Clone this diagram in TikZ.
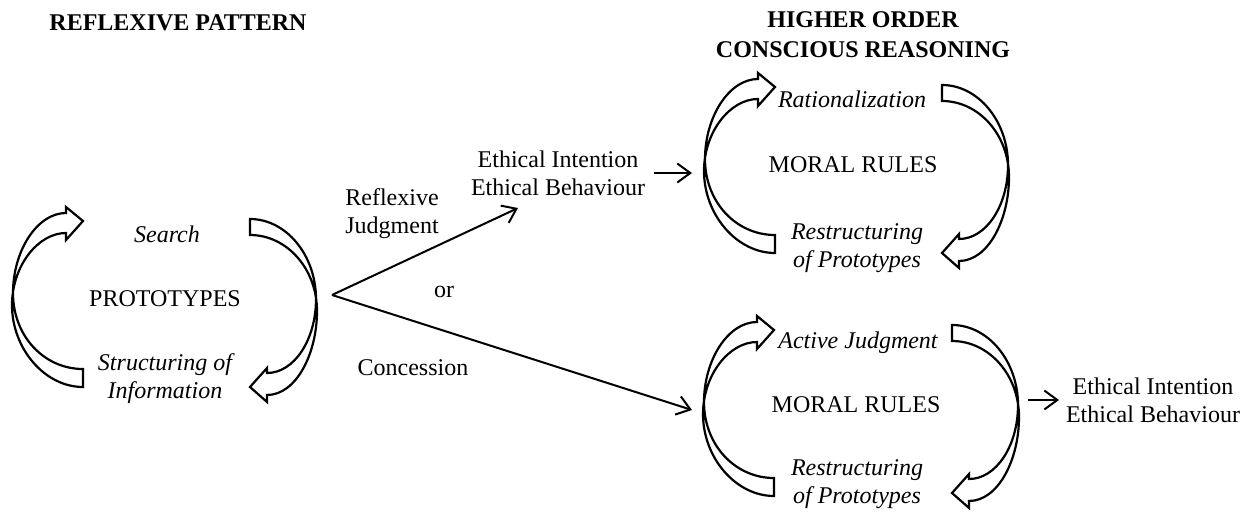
\documentclass[tikz,border=0pt]{standalone}
\usepackage{fontspec}
\setmainfont{Liberation Serif}
\usepackage{tikz}
\usetikzlibrary{arrows.meta,positioning}

\tikzset{
  txt/.style={font=\fontsize{24}{27.5}\selectfont, align=center, inner sep=0pt},
  itxt/.style={txt, font=\fontsize{24}{27.5}\selectfont\itshape},
  hdr/.style={txt, font=\fontsize{24}{29}\selectfont\bfseries},
  % curved block arrow on the left, head at the top
  turnup/.pic={
    \draw[line width=2.2pt, line join=miter] (0,148) .. controls (-39,148) and (-70,115) .. (-70,72)
      .. controls (-70,30) and (-46,-8) .. (-17,-8) -- (-17,-14) -- (0,0) -- (-17,19) -- (-17,12)
      .. controls (-45,12) and (-71,45) .. (-71,84)
      .. controls (-71,128) and (-38,166) .. (0,166) -- cycle;
  },
  % curved block arrow on the right, head at the bottom
  turndown/.pic={
    \draw[line width=2.2pt, line join=miter] (0,16) -- (0,0) .. controls (36,0) and (66,36) .. (66,80)
      .. controls (66,121) and (44,154) .. (17,154) -- (17,149) -- (0,168) -- (17,183) -- (17,176)
      .. controls (46,176) and (67,135) .. (67,92)
      .. controls (67,50) and (37,16) .. (0,16) -- cycle;
  }
}

\begin{document}
\begin{tikzpicture}[x=1pt, y=-1pt, >={Straight Barb[length=13pt,width=19pt]}]
    \useasboundingbox (0,0) rectangle (1249,511);

    \node[hdr, anchor=base] (hdrleft) at (178,31) {REFLEXIVE PATTERN};
    \node[hdr, anchor=base] (hdrright) at (863,57) {HIGHER ORDER\\CONSCIOUS REASONING};

    % reflexive cycle
    \pic at (83,221) {turnup};
    \pic at (250,219) {turndown};
    \node[itxt, anchor=base] (search) at (167,242) {Search};
    \node[txt, anchor=base] (proto) at (165,306) {PROTOTYPES};
    \node[itxt, anchor=base] (structinfo) at (165,398) {Structuring of\\Information};

    % the fork
    \coordinate (fork) at (332,295);
    \coordinate (upend) at (518,208);
    \coordinate (downend) at (692,410);
    \draw[->, line width=2pt] (fork) -- (upend);
    \draw[->, line width=2pt] (fork) -- (downend);
    \node[txt, anchor=base] (reflex) at (392,233) {Reflexive\\Judgment};
    \node[txt, anchor=base] (orlbl) at (444,297) {or};
    \node[txt, anchor=base] (concess) at (413,375) {Concession};

    \node[txt, anchor=base] (eth1) at (558,195) {Ethical Intention\\Ethical Behaviour};
    \coordinate (a1) at (654,173);
    \coordinate (b1) at (692,173);
    \draw[->, line width=2pt] (a1) -- (b1);

    % upper moral cycle
    \pic at (775,87) {turnup};
    \pic at (942,85) {turndown};
    \node[itxt, anchor=base] (ration) at (852,107) {Rationalization};
    \node[txt, anchor=base] (moralup) at (853,172) {MORAL RULES};
    \node[itxt, anchor=base] (restrup) at (857,267) {Restructuring\\of Prototypes};

    % lower moral cycle
    \pic at (774,330) {turnup};
    \pic at (952,325) {turndown};
    \node[itxt, anchor=base] (active) at (858,348) {Active Judgment};
    \node[txt, anchor=base] (morallow) at (856,412) {MORAL RULES};
    \node[itxt, anchor=base] (restrlow) at (857,503) {Restructuring\\of Prototypes};

    \coordinate (a2) at (1028,400);
    \coordinate (b2) at (1059,400);
    \draw[->, line width=2pt] (a2) -- (b2);
    \node[txt, anchor=base] (eth2) at (1153,422) {Ethical Intention\\Ethical Behaviour};
\end{tikzpicture}
\end{document}
